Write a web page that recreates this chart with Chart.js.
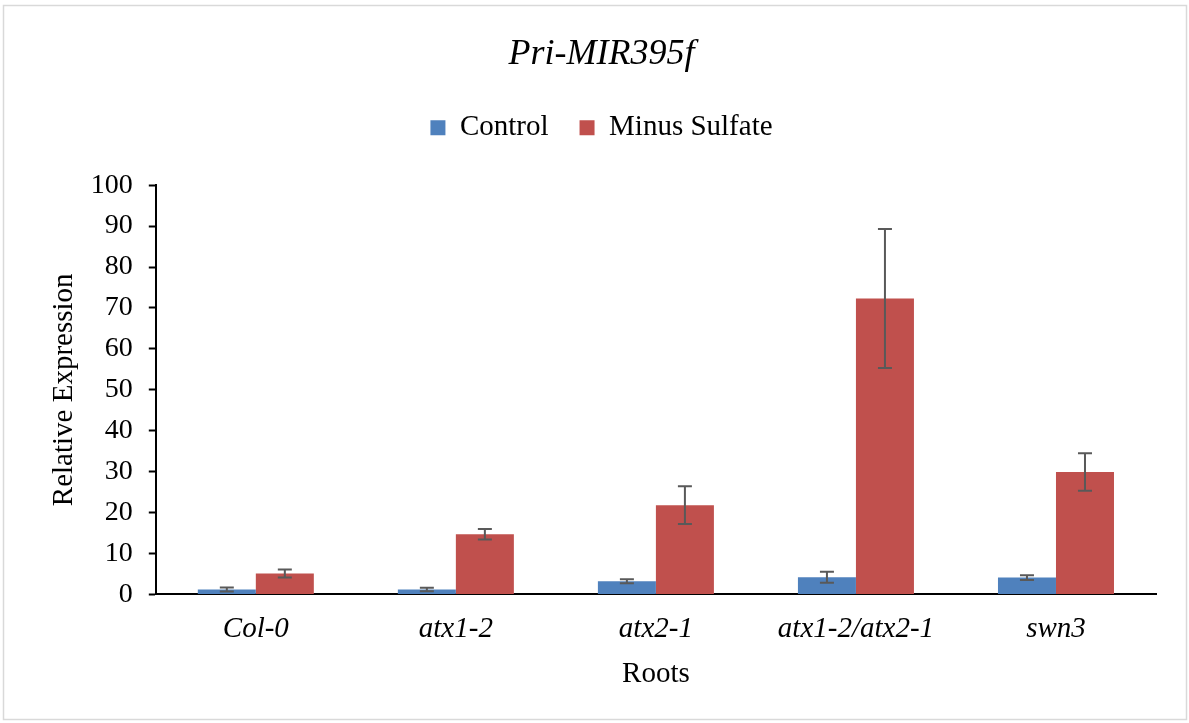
<!DOCTYPE html>
<html>
<head>
<meta charset="utf-8">
<script src="https://cdn.jsdelivr.net/npm/chart.js@4.4.0/dist/chart.umd.min.js"></script>
<style>
  body { margin: 0; background: #fff; }
  #wrap { width: 1189px; height: 723px; }
</style>
</head>
<body>
<div id="wrap"><canvas id="chart" width="1189" height="723"></canvas></div>
<script>
const categories = ['Col-0', 'atx1-2', 'atx2-1', 'atx1-2/atx2-1', 'swn3'];
const controlValues = [1.2, 1.2, 3.2, 4.2, 4.1];
const controlErrors = [0.5, 0.4, 0.5, 1.35, 0.6];
const sulfateValues = [5.1, 14.7, 21.8, 72.3, 29.9];
const sulfateErrors = [1.0, 1.3, 4.6, 17.0, 4.6];
const yTicks = [0, 10, 20, 30, 40, 50, 60, 70, 80, 90, 100];

const serif = "'Liberation Serif', 'Times New Roman', serif";

// white background and the thin grey frame
const frame = {
  id: 'frame',
  beforeDraw(chart) {
    const ctx = chart.ctx;
    ctx.save();
    ctx.fillStyle = '#fff';
    ctx.fillRect(0, 0, chart.width, chart.height);
    ctx.strokeStyle = '#d9d9d9';
    ctx.lineWidth = 1.5;
    ctx.strokeRect(3.5, 5.5, chart.width - 6, chart.height - 9);
    ctx.restore();
  }
};

// extra room under the legend
const legendGap = {
  id: 'legendGap',
  beforeInit(chart) {
    const fit = chart.legend.fit;
    chart.legend.fit = function () {
      fit.bind(chart.legend)();
      this.height += 33;
    };
  }
};

// error bars drawn from the y scale
const errorBars = {
  id: 'errorBars',
  afterDatasetsDraw(chart) {
    const ctx = chart.ctx;
    const y = chart.scales.y;
    ctx.save();
    ctx.strokeStyle = '#595959';
    ctx.lineWidth = 2;
    chart.data.datasets.forEach((ds, di) => {
      const meta = chart.getDatasetMeta(di);
      meta.data.forEach((bar, i) => {
        const v = ds.data[i], e = ds.errors[i];
        const top = y.getPixelForValue(v + e);
        const bot = y.getPixelForValue(v - e);
        const x = bar.x;
        ctx.beginPath();
        ctx.moveTo(x, top); ctx.lineTo(x, bot);
        ctx.moveTo(x - 7, top); ctx.lineTo(x + 7, top);
        ctx.moveTo(x - 7, bot); ctx.lineTo(x + 7, bot);
        ctx.stroke();
      });
    });
    ctx.restore();
  }
};

new Chart(document.getElementById('chart'), {
  type: 'bar',
  data: {
    labels: categories,
    datasets: [
      { label: 'Control', data: controlValues, errors: controlErrors,
        backgroundColor: '#4f81bd', categoryPercentage: 0.58, barPercentage: 1.0 },
      { label: 'Minus Sulfate', data: sulfateValues, errors: sulfateErrors,
        backgroundColor: '#c0504d', categoryPercentage: 0.58, barPercentage: 1.0 }
    ]
  },
  options: {
    responsive: false,
    animation: false,
    layout: { padding: { left: 47, right: 33, top: 18, bottom: 31 } },
    plugins: {
      title: {
        display: true,
        text: 'Pri-MIR395f',
        color: '#000',
        font: { family: serif, size: 36, style: 'italic', weight: 'normal' },
        padding: { top: 15, bottom: 6 }
      },
      legend: {
        display: true,
        labels: {
          color: '#000',
          font: { family: serif, size: 29 },
          boxWidth: 15,
          boxHeight: 15,
          padding: 31
        }
      },
      tooltip: { enabled: false }
    },
    scales: {
      x: {
        grid: { display: false, drawTicks: false },
        border: { color: '#000', width: 2 },
        ticks: {
          color: '#000',
          padding: 18,
          font: { family: serif, size: 29, style: 'italic' }
        },
        title: {
          display: true,
          text: 'Roots',
          color: '#000',
          font: { family: serif, size: 29 },
          padding: { top: -8, bottom: 0 }
        }
      },
      y: {
        min: 0,
        max: 100,
        afterBuildTicks(axis) { axis.ticks = yTicks.map(v => ({ value: v })); },
        grid: { display: true, drawOnChartArea: false, drawTicks: true, tickLength: 7, tickColor: '#000', tickWidth: 2 },
        border: { color: '#000', width: 2 },
        ticks: {
          color: '#000',
          padding: 16,
          font: { family: serif, size: 28 }
        },
        title: {
          display: true,
          text: 'Relative Expression',
          color: '#000',
          font: { family: serif, size: 29 },
          padding: { top: 0, bottom: -7 }
        }
      }
    }
  },
  plugins: [frame, legendGap, errorBars]
});
</script>
</body>
</html>
